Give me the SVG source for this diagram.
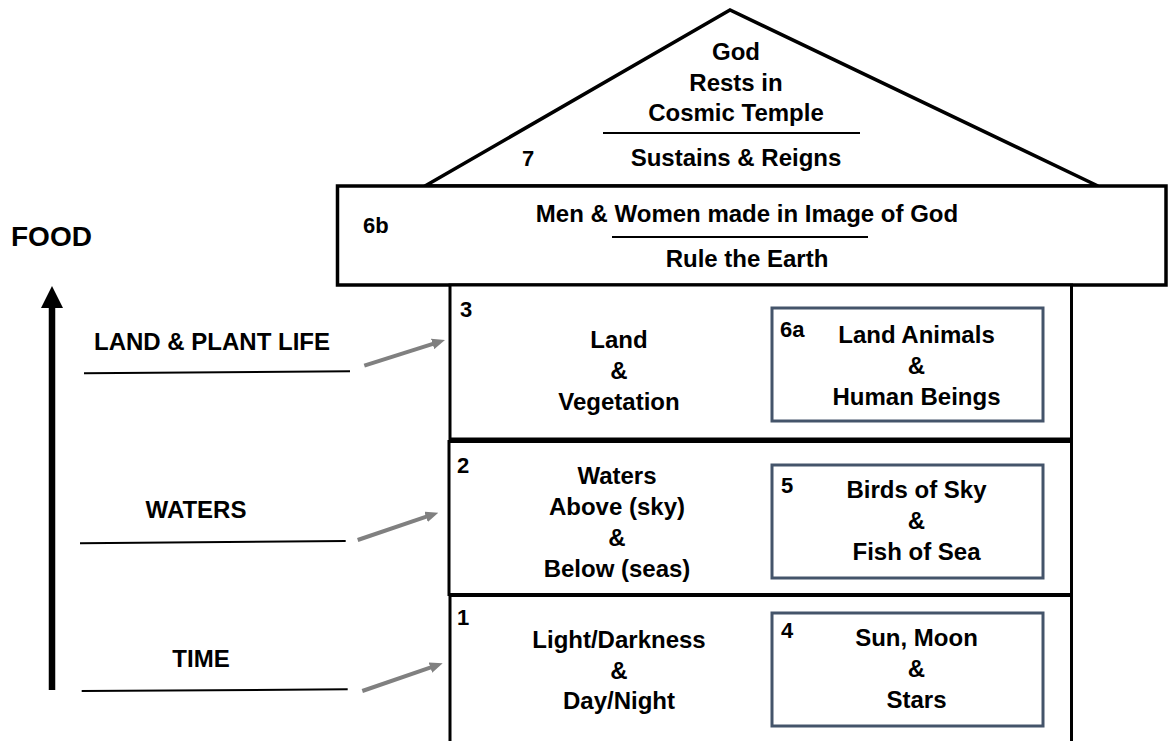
<svg xmlns="http://www.w3.org/2000/svg" width="1174" height="741" viewBox="0 0 1174 741">
<style>
  text { font-family: "Liberation Sans", Arial, sans-serif; font-weight: bold; fill: #000; }
  .t { font-size: 24px; text-anchor: middle; }
  .n { font-size: 22px; }
  .food { font-size: 28px; }
  .frame { fill: #fff; stroke: #000; stroke-width: 3.5; }
  .sec { fill: #fff; stroke: #000; stroke-width: 3; }
  .inner { fill: #fff; stroke: #44546A; stroke-width: 3; }
  .rule { stroke: #000; stroke-width: 2; }
  .gray { stroke: #808080; stroke-width: 4; fill: none; marker-end: url(#ga); }
</style>
<defs>
  <marker id="ga" markerUnits="userSpaceOnUse" markerWidth="13" markerHeight="11" refX="2" refY="5.5" orient="auto">
    <path d="M0,0 L13,5.5 L0,11 Z" fill="#808080"/>
  </marker>
</defs>
<rect width="1174" height="741" fill="#fff"/>

<g id="node-7">
  <polygon class="frame" points="425,186 730,10 1098,186"/>
  <text class="t" x="736" y="60">God</text>
  <text class="t" x="736" y="91">Rests in</text>
  <text class="t" x="736" y="121">Cosmic Temple</text>
  <line class="rule" x1="603" y1="133" x2="860" y2="133"/>
  <text class="n" x="522" y="166" font-size="23">7</text>
  <text class="t" x="736" y="166">Sustains &amp; Reigns</text>
</g>

<g id="node-6b">
  <rect class="frame" x="337.5" y="186" width="828.5" height="99"/>
  <text class="n" x="363" y="233">6b</text>
  <text class="t" x="747" y="222">Men &amp; Women made in Image of God</text>
  <line class="rule" x1="612" y1="237" x2="868" y2="237"/>
  <text class="t" x="747" y="267">Rule the Earth</text>
</g>

<g id="node-3">
  <rect class="sec" x="450" y="285" width="621.5" height="154"/>
  <text class="n" x="460" y="317">3</text>
  <text class="t" x="619" y="348">Land</text>
  <text class="t" x="619" y="379">&amp;</text>
  <text class="t" x="619" y="410">Vegetation</text>
</g>

<g id="node-2">
  <rect class="sec" x="449" y="441.5" width="622.5" height="153"/>
  <text class="n" x="457" y="473">2</text>
  <text class="t" x="617" y="484">Waters</text>
  <text class="t" x="617" y="515">Above (sky)</text>
  <text class="t" x="617" y="546">&amp;</text>
  <text class="t" x="617" y="577">Below (seas)</text>
</g>

<g id="node-1">
  <rect class="sec" x="450" y="595.5" width="621.5" height="160"/>
  <text class="n" x="457" y="625">1</text>
  <text class="t" x="619" y="648">Light/Darkness</text>
  <text class="t" x="619" y="679">&amp;</text>
  <text class="t" x="619" y="709">Day/Night</text>
</g>

<g id="node-6a">
  <rect class="inner" x="772" y="308" width="271" height="113"/>
  <text class="n" x="780" y="337">6a</text>
  <text class="t" x="916.5" y="343">Land Animals</text>
  <text class="t" x="916.5" y="374">&amp;</text>
  <text class="t" x="916.5" y="405">Human Beings</text>
</g>

<g id="node-5">
  <rect class="inner" x="772" y="465" width="271" height="113"/>
  <text class="n" x="781" y="493">5</text>
  <text class="t" x="916.5" y="498">Birds of Sky</text>
  <text class="t" x="916.5" y="529">&amp;</text>
  <text class="t" x="916.5" y="560">Fish of Sea</text>
</g>

<g id="node-4">
  <rect class="inner" x="772" y="613" width="271" height="113"/>
  <text class="n" x="781" y="638">4</text>
  <text class="t" x="916.5" y="646">Sun, Moon</text>
  <text class="t" x="916.5" y="677">&amp;</text>
  <text class="t" x="916.5" y="708">Stars</text>
</g>

<g id="label-food">
  <text class="food" x="11" y="246">FOOD</text>
</g>
<g id="label-land">
  <text class="t" x="212" y="350">LAND &amp; PLANT LIFE</text>
  <line class="rule" x1="84" y1="373.3" x2="350" y2="371.3"/>
</g>
<g id="label-waters">
  <text class="t" x="196" y="518">WATERS</text>
  <line class="rule" x1="80" y1="543.3" x2="345.7" y2="541"/>
</g>
<g id="label-time">
  <text class="t" x="201" y="667">TIME</text>
  <line class="rule" x1="81.7" y1="691" x2="347.7" y2="689.3"/>
</g>

<g id="connectors">
  <line x1="52" y1="690" x2="52" y2="304" stroke="#000" stroke-width="6.5"/>
  <polygon points="52,286 41,308 63,308" fill="#000"/>
  <line class="gray" x1="364.3" y1="365.7" x2="434.5" y2="343.3"/>
  <line class="gray" x1="357.7" y1="540" x2="427.9" y2="516.2"/>
  <line class="gray" x1="362.3" y1="691" x2="432.3" y2="666.9"/>
</g>
</svg>
